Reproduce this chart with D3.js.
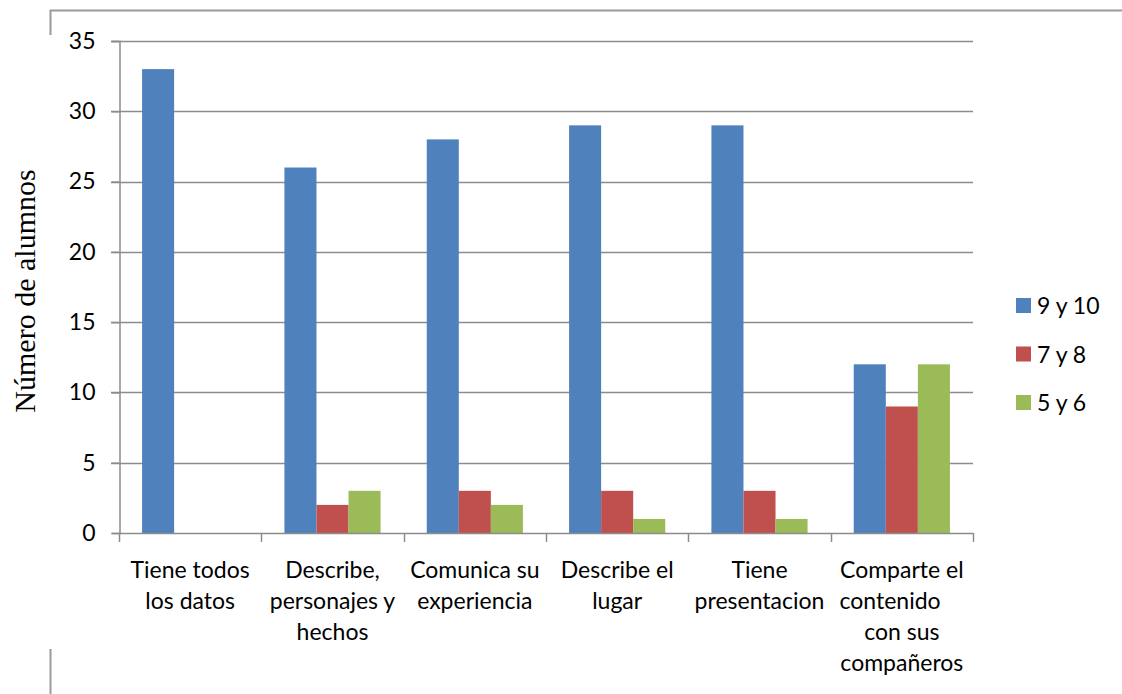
<!DOCTYPE html>
<html>
<head>
<meta charset="utf-8">
<script src="https://cdn.jsdelivr.net/npm/d3@7"></script>
<style>
  body { margin: 0; background: #fff; }
  text { font-family: Lato, "Open Sans", sans-serif; fill: #000; }
</style>
</head>
<body>
<div id="chart"></div>
<script>
    // data
    var categories = ["Tiene todos los datos", "Describe, personajes y hechos", "Comunica su experiencia",
                      "Describe el lugar", "Tiene presentacion", "Comparte el contenido con sus compañeros"];
    var catLines = [["Tiene todos", "los datos"], ["Describe,", "personajes y", "hechos"],
                    ["Comunica su", "experiencia"], ["Describe el", "lugar"],
                    ["Tiene", "presentacion"], ["Comparte el", "contenido    ", "con sus", "compañeros"]];
    var seriesNames = ["9 y 10", "7 y 8", "5 y 6"];
    var serie9y10 = [33, 26, 28, 29, 29, 12];
    var serie7y8 = [0, 2, 3, 3, 3, 9];
    var serie5y6 = [0, 3, 2, 1, 1, 12];
    var yTicks = [0, 5, 10, 15, 20, 25, 30, 35];
    var colors = ["#4F81BD", "#C0504D", "#9BBB59"];

    var seriesValues = [serie9y10, serie7y8, serie5y6];

    var width = 1122, height = 694;
    var plot = {left: 119, right: 973, top: 41, bottom: 533};
    var gray = "#8c8c8c";

    var svg = d3.select("#chart").append("svg")
        .attr("width", width)
        .attr("height", height);

    // outer frame pieces
    svg.append("path")
        .attr("d", "M50.5,35V10.5H1122")
        .attr("fill", "none").attr("stroke", "#9a9a9a").attr("stroke-width", 2);
    svg.append("line")
        .attr("x1", 50.5).attr("x2", 50.5).attr("y1", 649).attr("y2", 694)
        .attr("stroke", "#9a9a9a").attr("stroke-width", 2);

    var x = d3.scaleBand().domain(categories).range([plot.left, plot.right]);
    var x1 = d3.scaleBand().domain(seriesNames).range([0, x.bandwidth()]).paddingOuter(0.72);
    var y = d3.scaleLinear().domain([0, 35]).range([plot.bottom, plot.top]);

    // gridlines
    svg.append("g").selectAll("line")
      .data(yTicks.filter(function(d) { return d > 0; }))
      .enter().append("line")
        .attr("x1", plot.left - 8).attr("x2", plot.right)
        .attr("y1", function(d) { return Math.round(y(d)) + 0.5; })
        .attr("y2", function(d) { return Math.round(y(d)) + 0.5; })
        .attr("stroke", gray).attr("stroke-width", 1.5);

    // y axis
    var yAxis = svg.append("g")
        .attr("transform", "translate(" + (plot.left + 0.5) + ",0)")
        .call(d3.axisLeft(y).tickValues(yTicks).tickSize(8).tickPadding(16));
    yAxis.select(".domain").attr("stroke", gray).attr("stroke-width", 1.5);
    yAxis.selectAll(".tick line").attr("stroke", gray).attr("stroke-width", 1.5);
    yAxis.selectAll(".tick text").attr("font-size", 23).attr("font-family", "Lato, sans-serif");

    // bars
    var groups = svg.append("g").selectAll("g")
      .data(categories)
      .enter().append("g")
        .attr("transform", function(d) { return "translate(" + x(d) + ",0)"; });

    groups.selectAll("rect")
      .data(function(d, i) {
          return seriesNames.map(function(s, j) { return {s: s, v: seriesValues[j][i], c: colors[j]}; });
      })
      .enter().append("rect")
        .attr("x", function(d) { return x1(d.s); })
        .attr("width", x1.bandwidth())
        .attr("y", function(d) { return y(d.v); })
        .attr("height", function(d) { return y(0) - y(d.v); })
        .attr("fill", function(d) { return d.c; });

    // x axis
    var xAxisG = svg.append("g");
    xAxisG.append("line")
        .attr("x1", plot.left).attr("x2", plot.right)
        .attr("y1", plot.bottom + 0.5).attr("y2", plot.bottom + 0.5)
        .attr("stroke", gray).attr("stroke-width", 1.5);
    var edges = categories.map(function(c) { return x(c); }).concat([plot.right]);
    xAxisG.selectAll("line.tk")
      .data(edges)
      .enter().append("line")
        .attr("class", "tk")
        .attr("x1", function(d) { return Math.round(d) + 0.5; })
        .attr("x2", function(d) { return Math.round(d) + 0.5; })
        .attr("y1", plot.bottom).attr("y2", plot.bottom + 9)
        .attr("stroke", gray).attr("stroke-width", 1.5);

    var labels = xAxisG.selectAll("text.cat")
      .data(categories)
      .enter().append("text")
        .attr("class", "cat")
        .attr("text-anchor", "middle")
        .attr("font-size", 23)
        .style("white-space", "pre");
    labels.each(function(d, i) {
        var t = d3.select(this);
        catLines[i].forEach(function(line, k) {
            t.append("tspan")
                .attr("x", x(d) + x.bandwidth() / 2)
                .attr("y", 578 + k * 31)
                .text(line);
        });
    });

    // y axis title
    svg.append("text")
        .attr("transform", "translate(35,291) rotate(-90)")
        .attr("text-anchor", "middle")
        .attr("font-size", 30)
        .style("font-family", "'Liberation Serif', 'DejaVu Serif', serif")
        .text("Número de alumnos");

    // legend
    var legend = svg.append("g").selectAll("g")
      .data(seriesNames)
      .enter().append("g")
        .attr("transform", function(d, i) { return "translate(1016," + (298 + i * 48.5) + ")"; });
    legend.append("rect")
        .attr("width", 15).attr("height", 15)
        .attr("fill", function(d, i) { return colors[i]; });
    legend.append("text")
        .attr("x", 21).attr("y", 16)
        .attr("font-size", 23)
        .text(function(d) { return d; });
</script>
</body>
</html>
